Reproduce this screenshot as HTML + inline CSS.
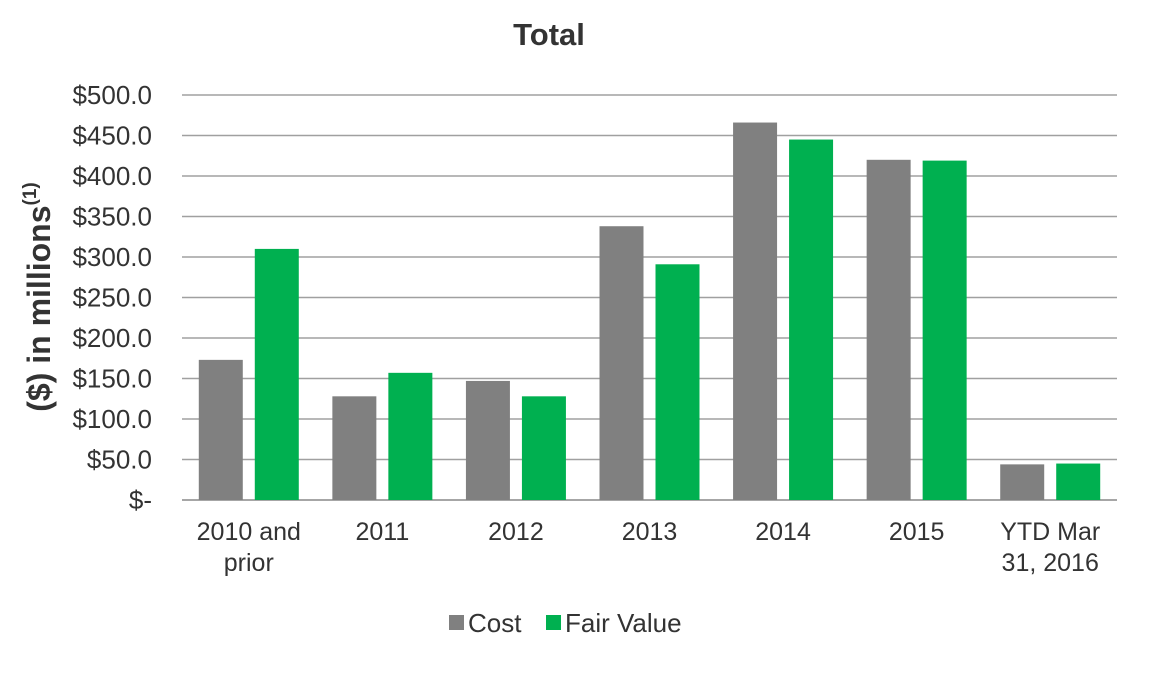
<!DOCTYPE html>
<html><head><meta charset="utf-8"><style>
body{margin:0;background:#fff;width:1158px;height:670px;overflow:hidden}
text{font-family:"Liberation Sans",Arial,sans-serif}
</style></head><body>
<svg id="chart" width="1158" height="670" xmlns="http://www.w3.org/2000/svg">
<text x="549" y="45" text-anchor="middle" font-size="31" font-weight="bold" fill="#333">Total</text>
<text transform="translate(50,297) rotate(-90)" text-anchor="middle" font-size="32" font-weight="bold" fill="#333">($) in millions<tspan font-size="19" dy="-14">(1)</tspan></text>
<g id="grid"></g><g id="bars"></g><g id="xlabels"></g>
<g>
<rect x="449" y="615" width="15" height="15" fill="#808080"/>
<text x="468" y="632" font-size="26" fill="#333">Cost</text>
<rect x="546" y="615" width="15" height="15" fill="#00b050"/>
<text x="565" y="632" font-size="26" fill="#333">Fair Value</text>
</g>
</svg>
<script>
const categories=[["2010 and","prior"],["2011"],["2012"],["2013"],["2014"],["2015"],["YTD Mar","31, 2016"]];
const costValues=[173,128,147,338,466,420,44];
const fairValues=[310,157,128,291,445,419,45];
const yTicks=[0,50,100,150,200,250,300,350,400,450,500];
const yTickLabels=["$-","$50.0","$100.0","$150.0","$200.0","$250.0","$300.0","$350.0","$400.0","$450.0","$500.0"];
const NS="http://www.w3.org/2000/svg";
const x0=182,x1=1117,yTop=95,yBot=500;
const y=v=>yBot-(v/500)*(yBot-yTop);
const gw=(x1-x0)/categories.length;
const gx=i=>x0+gw*i+gw/2;
function mk(t,a,p){const e=document.createElementNS(NS,t);for(const k in a)e.setAttribute(k,a[k]);p.appendChild(e);return e;}
const grid=document.getElementById('grid');
yTicks.forEach((v,i)=>{
 const l=mk('line',{x1:x0,x2:x1,y1:y(v),y2:y(v),stroke:i==0?'#888':'#a0a0a0','stroke-width':1.5},grid);
 
 
 const t=mk('text',{x:152,y:y(v)+9,'text-anchor':'end','font-size':26,fill:'#333'},grid);
 t.textContent=yTickLabels[i];
 
 
});
const bars=document.getElementById('bars'),xl=document.getElementById('xlabels');
const bw=44,gap=12;
categories.forEach((c,i)=>{
 const cx=gx(i);
 const r1=mk('rect',{x:cx-gap/2-bw,y:y(costValues[i]),width:bw,height:yBot-y(costValues[i]),fill:'#808080'},bars);
 
 
 const r2=mk('rect',{x:cx+gap/2,y:y(fairValues[i]),width:bw,height:yBot-y(fairValues[i]),fill:'#00b050'},bars);
 
 
 c.forEach((line,j)=>{
  const t=mk('text',{x:cx,y:540+j*31,'text-anchor':'middle','font-size':25,fill:'#333'},xl);
  t.textContent=line;
  
  
 });
});
</script>
</body></html>
